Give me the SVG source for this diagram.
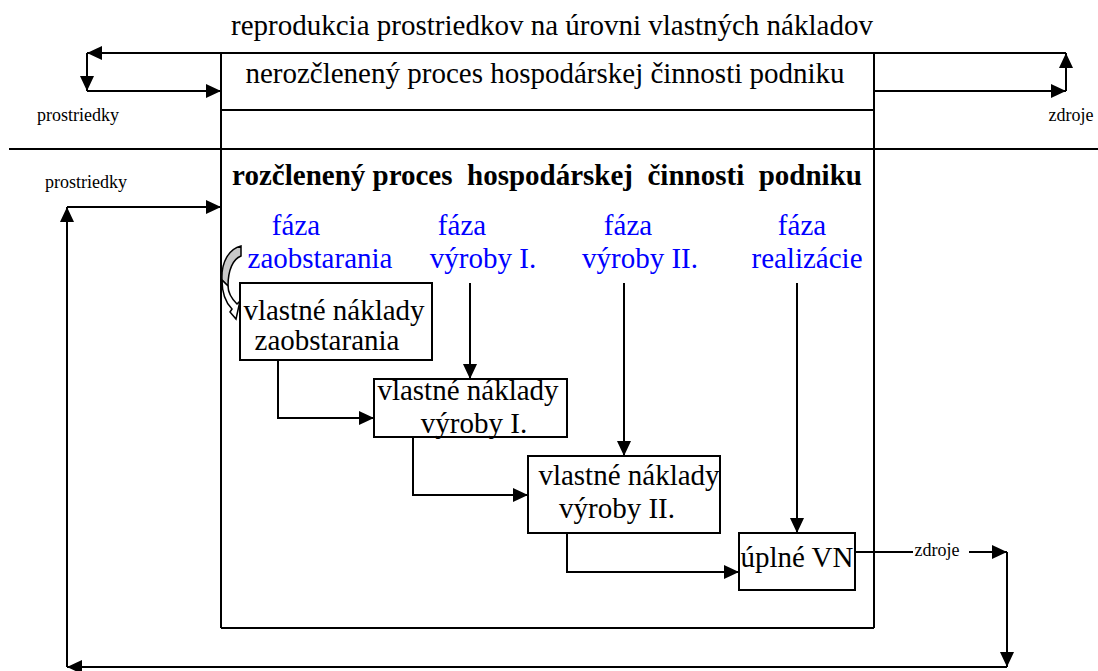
<svg xmlns="http://www.w3.org/2000/svg" width="1098" height="671" viewBox="0 0 1098 671">
<style>
text{font-family:'Liberation Serif','Times New Roman',serif;fill:#000}
.big{font-size:29px}
.sm{font-size:18px}
.bold{font-size:29px;font-weight:bold;white-space:pre}
.blue{font-size:29px;fill:#0000ff}
.ln{fill:none;stroke:#000;stroke-width:2}
.box{fill:#fff;stroke:#000;stroke-width:2}
</style>
<defs>
<marker id="ah" markerUnits="userSpaceOnUse" markerWidth="16" markerHeight="14" refX="15" refY="7" orient="auto">
<path d="M0,0 L15,7 L0,14 Z" fill="#000"/>
</marker>
</defs>
<rect width="1098" height="671" fill="#fff"/>
<g id="frame">
<line class="ln" x1="221" y1="53" x2="221" y2="628"/>
<line class="ln" x1="874" y1="53" x2="874" y2="628"/>
<line class="ln" x1="221" y1="628" x2="874" y2="628"/>
<line class="ln" x1="221" y1="110" x2="874" y2="110"/>
<line class="ln" x1="9" y1="149" x2="1098" y2="149"/>
</g>
<g id="labels">
<text class="big" x="552" y="35" text-anchor="middle">reprodukcia prostriedkov na úrovni vlastných nákladov</text>
<text class="big" x="545" y="83" text-anchor="middle">nerozčlenený proces hospodárskej činnosti podniku</text>
<text class="bold" x="547" y="185" text-anchor="middle">rozčlenený proces  hospodárskej  činnosti  podniku</text>
<text class="sm" x="78" y="121" text-anchor="middle">prostriedky</text>
<text class="sm" x="1071" y="121" text-anchor="middle">zdroje</text>
<text class="sm" x="86" y="188" text-anchor="middle">prostriedky</text>
<text class="sm" x="937" y="556" text-anchor="middle" font-size="17">zdroje</text>
</g>
<g id="phases">
<text class="blue" x="296" y="235" text-anchor="middle">fáza</text>
<text class="blue" x="320" y="268" text-anchor="middle">zaobstarania</text>
<text class="blue" x="462" y="235" text-anchor="middle">fáza</text>
<text class="blue" x="483" y="268" text-anchor="middle">výroby I.</text>
<text class="blue" x="628" y="235" text-anchor="middle">fáza</text>
<text class="blue" x="640" y="268" text-anchor="middle">výroby II.</text>
<text class="blue" x="802" y="235" text-anchor="middle">fáza</text>
<text class="blue" x="807" y="268" text-anchor="middle">realizácie</text>
</g>
<g id="curved-arrow">
<path d="M241,246 C229,249 221,262 222,280 L228,286 C228,270 233,259 241,256 Z" fill="#c8c8c8" stroke="#000" stroke-width="1.5"/>
<path d="M222,280 C222,294 226,303 232,309 L230,312 L236,319 L240,301 L237,304 C232,299 228,293 228,286 Z" fill="#fff" stroke="#000" stroke-width="1.5"/>
</g>
<g id="box1">
<rect class="box" x="240" y="283" width="192" height="77"/>
<text class="big" x="334" y="320" text-anchor="middle">vlastné náklady</text>
<text class="big" x="327" y="350" text-anchor="middle">zaobstarania</text>
</g>
<g id="box2">
<rect class="box" x="374" y="379" width="193" height="58"/>
<text class="big" x="468" y="400" text-anchor="middle">vlastné náklady</text>
<text class="big" x="474" y="433" text-anchor="middle">výroby I.</text>
</g>
<g id="box3">
<rect class="box" x="528" y="456" width="192" height="77"/>
<text class="big" x="629" y="485" text-anchor="middle">vlastné náklady</text>
<text class="big" x="617" y="518" text-anchor="middle">výroby II.</text>
</g>
<g id="box4">
<rect class="box" x="739" y="533" width="116" height="57"/>
<text class="big" x="797" y="567" text-anchor="middle">úplné VN</text>
</g>
<g id="connectors">
<polyline class="ln" points="221,53 87,53" marker-end="url(#ah)"/>
<polyline class="ln" points="221,53 1066,53"/>
<polyline class="ln" points="87,53 87,91" marker-end="url(#ah)"/>
<polyline class="ln" points="87,91 221,91" marker-end="url(#ah)"/>
<polyline class="ln" points="874,91 1066,91" marker-end="url(#ah)"/>
<polyline class="ln" points="1066,91 1066,53" marker-end="url(#ah)"/>
<polyline class="ln" points="278,360 278,418 374,418" marker-end="url(#ah)"/>
<polyline class="ln" points="470,283 470,379" marker-end="url(#ah)"/>
<polyline class="ln" points="413,437 413,495 528,495" marker-end="url(#ah)"/>
<polyline class="ln" points="624,283 624,456" marker-end="url(#ah)"/>
<polyline class="ln" points="567,533 567,572 739,572" marker-end="url(#ah)"/>
<polyline class="ln" points="797,283 797,533" marker-end="url(#ah)"/>
<polyline class="ln" points="855,552 913,552"/>
<polyline class="ln" points="969,552 1007,552" marker-end="url(#ah)"/>
<polyline class="ln" points="1007,552 1007,667" marker-end="url(#ah)"/>
<polyline class="ln" points="1007,667 67,667" marker-end="url(#ah)"/>
<polyline class="ln" points="67,667 67,207" marker-end="url(#ah)"/>
<polyline class="ln" points="67,207 221,207" marker-end="url(#ah)"/>
</g>
</svg>
